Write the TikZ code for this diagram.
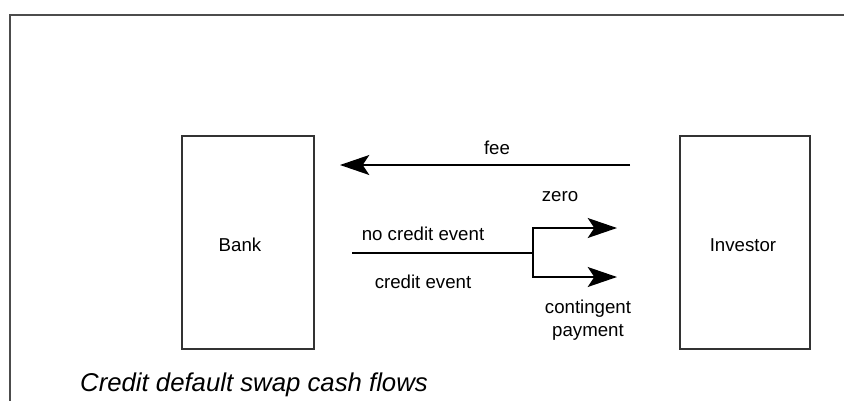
\documentclass[tikz,border=0pt]{standalone}
\usepackage{fontspec}
\setmainfont{Liberation Sans}
\usetikzlibrary{arrows.meta}
\tikzset{
  party/.style={draw=black!80, line width=1.5pt, minimum width=99pt, minimum height=160pt, font=\fontsize{14}{17}\selectfont},
  flow/.style={line width=1.1pt, -{Stealth[length=22pt, width=15pt, inset=5pt]}},
  lbl/.style={font=\fontsize{14}{17}\selectfont, inner sep=0pt}
}
\begin{document}
\begin{tikzpicture}[x=0.75pt, y=-0.75pt]
     \useasboundingbox (0,0) rectangle (844,401);
     \draw[black!70, line width=1.5pt] (844,15) -- (10,15) -- (10,401);
     \node[party] (bank) at (247.5,242.5) {};
     \node[party, minimum width=98pt] (investor) at (745,242.5) {};
     \node[lbl] (banklbl) at (240,245) {Bank};
     \node[lbl] (investorlbl) at (743,245) {Investor};
     \coordinate (feestart) at (630,165);
     \coordinate (feeend) at (340,165);
     \coordinate (legstart) at (352,253);
     \coordinate (split) at (533,253);
     \coordinate (zeroend) at (617,228);
     \coordinate (payend) at (617,277);
     \draw[flow] (feestart) -- (feeend);
     \draw[line width=1.1pt] (legstart) -- (split);
     \draw[flow] (split) |- (zeroend);
     \draw[flow] (split) |- (payend);
     \node[lbl] (fee) at (497,148) {fee};
     \node[lbl] (zero) at (560,197) {zero};
     \node[lbl] (nocredit) at (423,234) {no credit event};
     \node[lbl] (credit) at (423,282) {credit event};
     \node[lbl, align=center] (contingent) at (588,320) {contingent\\payment};
     \node[lbl, font=\fontsize{19.3}{23}\selectfont\itshape] (caption) at (254,385) {Credit default swap cash flows};
\end{tikzpicture}
\end{document}
